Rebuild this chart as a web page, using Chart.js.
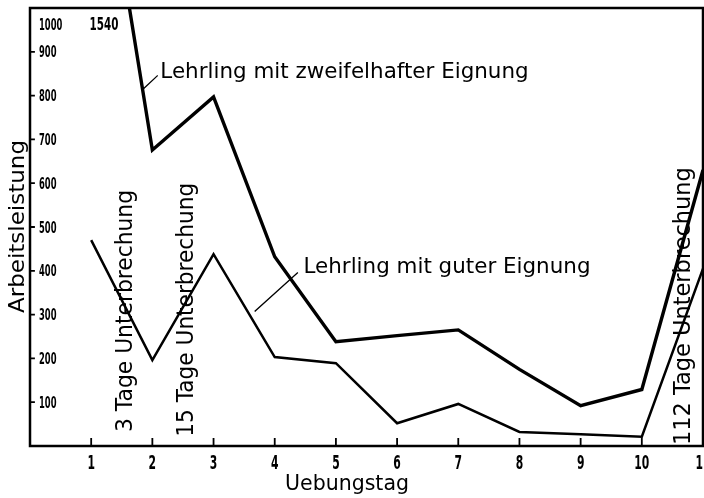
<!DOCTYPE html>
<html>
<head>
<meta charset="utf-8">
<script src="https://cdn.jsdelivr.net/npm/chart.js@4/dist/chart.umd.min.js"></script>
<style>
  html, body { margin: 0; padding: 0; background: #fff; }
  #wrap { width: 704px; height: 498px; }
</style>
</head>
<body>
<div id="wrap"><canvas id="c" width="704" height="498"></canvas></div>
<script>
// Übungstage (x axis)
const days = [1, 2, 3, 4, 5, 6, 7, 8, 9, 10, 11];
// Arbeitsleistung je Übungstag
const zweifelhaft = [1540, 676, 797, 432, 238, 252, 265, 175, 92, 129, 630];
const gut = [470, 196, 438, 203, 189, 52, 96, 32, 27, 21, 405];
// y axis tick values
const yTicks = [100, 200, 300, 400, 500, 600, 700, 800, 900, 1000];

const INK = '#000';
const TICK_FAMILY = "'DejaVu Sans Condensed', 'Liberation Sans Narrow', sans-serif";
const NOTE_FAMILY = "'DejaVu Sans', sans-serif";

// annotations placed in data coordinates
const notes = [
  { text: 'Lehrling mit guter Eignung', x: 4.47, y: 395, rot: 0, size: 21, len: 287 },
  { text: 'Lehrling mit zweifelhafter Eignung', x: 2.13, y: 840, rot: 0, size: 21, like: 0 },
  { text: '3 Tage Unterbrechung', x: 1.675, y: 32, rot: -90, size: 23, len: 242 },
  { text: '15 Tage Unterbrechung', x: 2.67, y: 21, rot: -90, size: 23, len: 254 },
  { text: '112 Tage Unterbrechung', x: 10.79, y: 2, rot: -90, size: 23, len: 278 }
];
const leaders = [
  [1.85, 815, 2.08, 845],
  [3.68, 308, 4.37, 395]
];

function fitText(ctx, text, x, y, angle, font, len) {
  ctx.save();
  ctx.font = font;
  const w = ctx.measureText(text).width;
  ctx.translate(x, y);
  ctx.rotate(angle);
  ctx.scale(len / w, 1);
  ctx.textAlign = 'left';
  ctx.textBaseline = 'alphabetic';
  ctx.fillStyle = INK;
  ctx.fillText(text, 0, 0);
  ctx.restore();
}

// tall, narrow lettering for the numbers
function narrowText(ctx, text, x, y, size, sx, align) {
  ctx.save();
  ctx.translate(x, y);
  ctx.scale(sx, 1);
  ctx.font = 'bold ' + size + 'px ' + TICK_FAMILY;
  ctx.textAlign = align;
  ctx.textBaseline = 'alphabetic';
  ctx.fillStyle = INK;
  ctx.fillText(text, 0, 0);
  ctx.restore();
}

const decor = {
  id: 'decor',
  afterDraw(chart) {
    const { ctx, chartArea: a, scales: { x, y } } = chart;
    ctx.save();
    ctx.strokeStyle = INK;
    ctx.lineCap = 'square';

    // frame
    ctx.lineWidth = 2.5;
    ctx.strokeRect(a.left, a.top, a.right - a.left, a.bottom - a.top);

    // tick marks pointing into the plot
    ctx.lineWidth = 1.8;
    ctx.beginPath();
    x.ticks.forEach(t => {
      const px = x.getPixelForValue(t.value);
      ctx.moveTo(px, a.bottom);
      ctx.lineTo(px, a.bottom - 7);
    });
    y.ticks.filter(t => t.value < 1000).forEach(t => {
      const py = y.getPixelForValue(t.value);
      ctx.moveTo(a.left, py);
      ctx.lineTo(a.left + 4, py);
    });
    ctx.stroke();

    // tick labels from the scales
    x.ticks.forEach(t => {
      narrowText(ctx, String(t.value), x.getPixelForValue(t.value), a.bottom + 23, 20, 0.6, 'center');
    });
    y.ticks.forEach(t => {
      // the top label sits just below the frame
      const v = t.value >= 1000 ? 963 : t.value;
      narrowText(ctx, String(t.value), a.left + 9, y.getPixelForValue(v) + 5.5, 15, 0.62, 'left');
    });
    // start value of the upper curve, above the clipped line
    narrowText(ctx, String(zweifelhaft[0]), x.getPixelForValue(1.447), y.getPixelForValue(963) + 6, 17, 0.68, 'right');

    // leader lines
    ctx.lineWidth = 1.3;
    ctx.beginPath();
    leaders.forEach(([x1, y1, x2, y2]) => {
      ctx.moveTo(x.getPixelForValue(x1), y.getPixelForValue(y1));
      ctx.lineTo(x.getPixelForValue(x2), y.getPixelForValue(y2));
    });
    ctx.stroke();

    // annotation texts
    const lens = [];
    notes.forEach((n, i) => {
      const font = n.size + 'px ' + NOTE_FAMILY;
      let len = n.len;
      if (len === undefined) {
        ctx.font = font;
        const ref = notes[n.like];
        const wRef = ctx.measureText(ref.text).width;
        len = ctx.measureText(n.text).width * (lens[n.like] / wRef);
      }
      lens[i] = len;
      fitText(ctx, n.text, x.getPixelForValue(n.x), y.getPixelForValue(n.y),
              n.rot * Math.PI / 180, font, len);
    });

    // axis titles
    fitText(ctx, 'Arbeitsleistung', 24, 313, -Math.PI / 2, '22px ' + NOTE_FAMILY, 173);
    fitText(ctx, 'Uebungstag', 285, 490, 0, '21px ' + NOTE_FAMILY, 124);
    ctx.restore();
  }
};

new Chart(document.getElementById('c'), {
  type: 'line',
  data: {
    datasets: [
      {
        label: 'Lehrling mit zweifelhafter Eignung',
        data: days.map((d, i) => ({ x: d, y: zweifelhaft[i] })),
        borderColor: INK,
        borderWidth: 3.4,
        pointRadius: 0,
        tension: 0,
        fill: false
      },
      {
        label: 'Lehrling mit guter Eignung',
        data: days.map((d, i) => ({ x: d, y: gut[i] })),
        borderColor: INK,
        borderWidth: 2.5,
        pointRadius: 0,
        tension: 0,
        fill: false
      }
    ]
  },
  options: {
    responsive: false,
    devicePixelRatio: 1,
    animation: false,
    layout: { padding: { top: 8, right: 1, left: 0, bottom: 0 } },
    plugins: { legend: { display: false }, tooltip: { enabled: false } },
    scales: {
      x: {
        type: 'linear',
        min: 0,
        max: 11,
        afterBuildTicks: s => { s.ticks = days.map(v => ({ value: v })); },
        afterFit: s => { s.height = 52; s.paddingLeft = 0; s.paddingRight = 0; },
        ticks: { display: false },
        grid: { display: false, drawTicks: false },
        border: { display: false }
      },
      y: {
        type: 'linear',
        min: 0,
        max: 1000,
        afterBuildTicks: s => { s.ticks = yTicks.map(v => ({ value: v })); },
        afterFit: s => { s.width = 30; s.paddingTop = 0; s.paddingBottom = 0; },
        ticks: { display: false },
        grid: { display: false, drawTicks: false },
        border: { display: false }
      }
    }
  },
  plugins: [decor]
});
</script>
</body>
</html>
